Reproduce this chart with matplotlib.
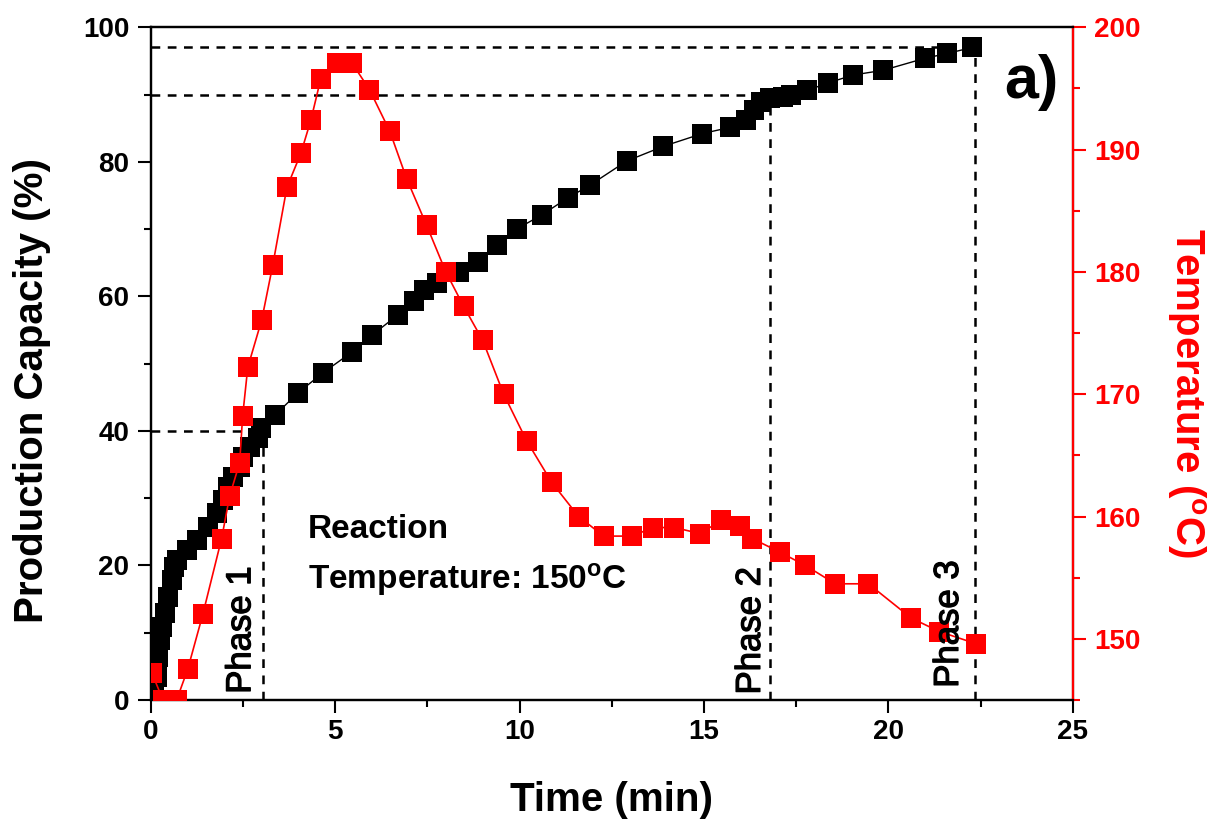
import matplotlib
matplotlib.use('Agg')
import matplotlib.pyplot as plt
import matplotlib.patheffects as pe
from matplotlib.ticker import MultipleLocator

plt.rcParams['font.family'] = ['Liberation Sans', 'DejaVu Sans']
plt.rcParams['mathtext.fontset'] = 'custom'
plt.rcParams['mathtext.rm'] = 'Liberation Sans:bold'
plt.rcParams['mathtext.default'] = 'rm'

# production capacity (left axis)
time_cap = [0.03, 0.1, 0.16, 0.19, 0.24, 0.3, 0.38, 0.46, 0.57, 0.62, 0.72, 0.98,
            1.25, 1.54, 1.79, 1.95, 2.09, 2.22, 2.41, 2.49, 2.68, 2.9, 3.0, 3.36,
            3.98, 4.66, 5.45, 5.99, 6.69, 7.15, 7.4, 7.75, 8.37, 8.86, 9.4, 9.92,
            10.6, 11.3, 11.9, 12.9, 13.9, 14.96, 15.7, 16.15, 16.37, 16.56, 16.78,
            17.13, 17.37, 17.8, 18.35, 19.05, 19.86, 21.0, 21.6, 22.28]
capacity = [1.5, 3.0, 3.4, 6.4, 8.9, 10.8, 12.9, 15.3, 17.8, 19.8, 20.8, 22.3,
            23.8, 25.7, 27.8, 29.7, 31.6, 33.1, 34.6, 36.1, 37.6, 39.0, 40.4, 42.3,
            45.6, 48.6, 51.7, 54.2, 57.2, 59.3, 60.9, 62.0, 63.6, 65.1, 67.6, 70.0,
            72.1, 74.6, 76.5, 80.1, 82.3, 84.2, 85.1, 86.2, 87.7, 88.9, 89.5,
            89.6, 89.9, 90.6, 91.7, 92.9, 93.6, 95.4, 96.1, 97.0]

# temperature (right axis)
time_temp = [0.03, 0.33, 0.7, 1.0, 1.41, 1.92, 2.14, 2.41, 2.49, 2.63, 3.01, 3.31,
             3.69, 4.07, 4.34, 4.61, 5.04, 5.45, 5.93, 6.48, 6.94, 7.48, 8.0, 8.48,
             9.0, 9.57, 10.19, 10.87, 11.6, 12.28, 13.04, 13.63, 14.2, 14.9, 15.47,
             15.99, 16.31, 17.05, 17.75, 18.56, 19.46, 20.62, 21.38, 22.38]
temperature = [147.2, 145.0, 145.0, 147.5, 152.0, 158.2, 161.7, 164.4, 168.2, 172.2,
               176.1, 180.6, 186.9, 189.7, 192.4, 195.8, 197.1, 197.1, 194.9, 191.5,
               187.6, 183.8, 180.0, 177.2, 174.4, 170.0, 166.2, 162.8, 160.0, 158.4,
               158.4, 159.1, 159.1, 158.6, 159.7, 159.2, 158.2, 157.1, 156.0, 154.5,
               154.5, 151.7, 150.6, 149.6]

# phase boundaries (time, capacity)
phase_t = [3.05, 16.8, 22.35]
phase_cap = [40, 90, 97]
phase_names = ['Phase 1', 'Phase 2', 'Phase 3']

fig = plt.figure(figsize=(12.26, 8.25), dpi=100)
ax = fig.add_axes([0.123, 0.1515, 0.752, 0.8155])
ax2 = ax.twinx()

dash = (0, (3.5, 3))
for t, c in zip(phase_t, phase_cap):
    ax.plot([0, t], [c, c], color='black', lw=1.8, linestyle=dash, zorder=1)
    ax.plot([t, t], [0, c], color='black', lw=1.8, linestyle=dash, zorder=1)

ax.plot(time_cap, capacity, color='black', lw=1, marker='s', ms=14,
        markeredgewidth=0, zorder=3)
ax2.plot(time_temp, temperature, color='red', lw=1.2, marker='s', ms=14,
         markeredgewidth=0, zorder=3)

ax.set_xlim(0, 25)
ax.set_ylim(0, 100)
ax2.set_ylim(145, 200)

ax.xaxis.set_major_locator(MultipleLocator(5))
ax.xaxis.set_minor_locator(MultipleLocator(2.5))
ax.yaxis.set_major_locator(MultipleLocator(20))
ax.yaxis.set_minor_locator(MultipleLocator(10))
ax2.yaxis.set_major_locator(MultipleLocator(10))
ax2.yaxis.set_minor_locator(MultipleLocator(5))

for s in ax.spines.values():
    s.set_linewidth(1.6)
for s in ax2.spines.values():
    s.set_linewidth(1.6)
ax2.spines['right'].set_color('red')

ax.tick_params(axis='both', which='major', direction='out', length=9.5, width=1.5,
               labelsize=20, pad=6)
ax.tick_params(axis='both', which='minor', direction='out', length=5, width=1.5)
ax.tick_params(axis='x', pad=4)
ax2.tick_params(axis='y', which='major', direction='out', length=9.5, width=1.5,
                labelsize=20, pad=6, colors='red')
ax2.tick_params(axis='y', which='minor', direction='out', length=5, width=1.5,
                colors='red')
for lab in ax.get_xticklabels() + ax.get_yticklabels() + ax2.get_yticklabels():
    lab.set_fontweight('bold')

ax.set_xlabel('Time (min)', fontsize=29, fontweight='bold', va='center')
ax.xaxis.set_label_coords(0.5, -0.149)
ax.set_ylabel('Production Capacity (%)', fontsize=29, fontweight='bold', va='center')
ax.yaxis.set_label_coords(-0.129, 0.46)
ax2.set_ylabel(r'Temperature ($^{\mathregular{o}}$C)', fontsize=29, fontweight='bold',
               color='red', rotation=270, va='center')
ax2.yaxis.set_label_coords(1.1236, 0.456)

ax.text(4.25, 24.1, 'Reaction', fontsize=24, fontweight='bold', va='baseline')
ax.text(4.25, 16.6, r'Temperature: 150$^{\mathregular{o}}$C', fontsize=24,
        fontweight='bold', va='baseline')

# phase labels sit on top of the red markers
phase_pos = [(2.44, 10.4), (16.26, 10.3), (21.63, 11.3)]
for (x, y), name in zip(phase_pos, phase_names):
    ax2.text(x, y, name, fontsize=25, rotation=90, ha='center', va='center',
             transform=ax.transData, zorder=5,
             path_effects=[pe.withStroke(linewidth=0.9, foreground='black')])

ax.text(23.88, 91.8, 'a)', fontsize=44, fontweight='bold', ha='center', va='center')

fig.savefig('out.png', dpi=100)
